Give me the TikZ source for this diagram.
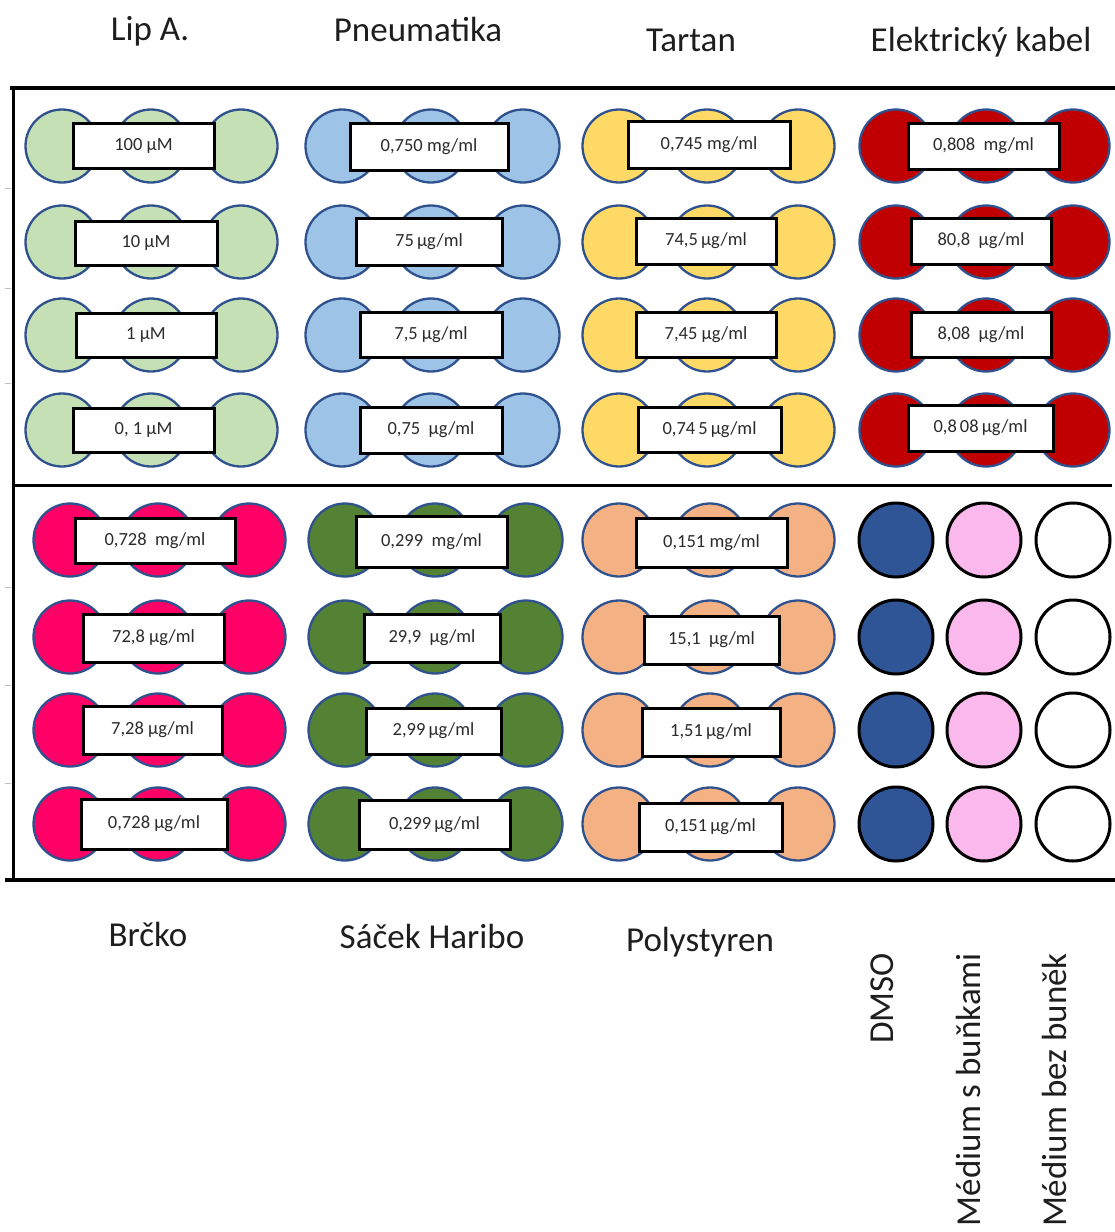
\documentclass[tikz,border=0pt]{standalone}
\usepackage{fontspec}
\setmainfont{Carlito}

% well fills
\definecolor{lipgreen}{HTML}{C5E0B4}
\definecolor{pneublue}{HTML}{9DC3E6}
\definecolor{tartanyellow}{HTML}{FFD966}
\definecolor{cablered}{HTML}{C00000}
\definecolor{strawpink}{HTML}{FF0066}
\definecolor{bagreen}{HTML}{548235}
\definecolor{polypeach}{HTML}{F4B183}
\definecolor{dmsoblue}{HTML}{2F5597}
\definecolor{mediumpink}{HTML}{FBB8EC}
\definecolor{wellrim}{HTML}{2F528F}
\definecolor{labelgray}{HTML}{2B2B2B}
\definecolor{headgray}{HTML}{1E1E1E}

\tikzset{
  well/.style={circle, draw=wellrim, line width=2.3pt, minimum size=73pt, inner sep=0pt},
  ctrl/.style={circle, draw=black, line width=3pt, minimum size=74pt, inner sep=0pt},
  conc/.style={draw=black, fill=white, line width=3pt, inner sep=0pt,
    font=\fontsize{18.5}{22}\selectfont, text=labelgray},
  heading/.style={font=\fontsize{35}{42}\selectfont, text=headgray, anchor=base},
  sidelabel/.style={heading, rotate=90, anchor=base east, inner sep=0pt},
  rule/.style={line width=4pt, black},
  tick/.style={line width=1pt, black!25}
}

% three overlapping wells in one row: prefix, x1, x2, x3, y, fill
\newcommand\wellrow[6]{%
  \node[well, fill=#6] (#1a) at (#2,#5) {};
  \node[well, fill=#6] (#1b) at (#3,#5) {};
  \node[well, fill=#6] (#1c) at (#4,#5) {};
}
% concentration label: name, cx, cy, width, height, text
\newcommand\concbox[6]{%
  \node[conc, minimum width=#4pt, minimum height=#5pt] (#1) at (#2,#3) {#6};
}

\begin{document}
\begin{tikzpicture}[x=1pt, y=-1pt]
\useasboundingbox (0,0) rectangle (1115,1232);

% ---------- plate frame ----------
\coordinate (frTL) at (10,88);
\coordinate (frTR) at (1115,88);
\coordinate (frLT) at (13,88);
\coordinate (frLB) at (13,882);
\coordinate (frML) at (13,485);
\coordinate (frMR) at (1112,485);
\coordinate (frBL) at (5,880);
\coordinate (frBR) at (1115,880);
\draw[rule] (frTL) -- (frTR);
\draw[rule, line width=3pt] (frLT) -- (frLB);
\draw[rule, line width=3pt] (frML) -- (frMR);
\draw[rule, line width=4.5pt] (frBL) -- (frBR);
\foreach \ty in {188,288,383,587,685,783}
  \draw[tick] (5,\ty) -- (11,\ty);

% ---------- upper half: wells ----------
\foreach \r/\y in {1/146,2/242,3/335,4/430} {
  \wellrow{lip\r}{62}{151}{241}{\y}{lipgreen}
  \wellrow{pneu\r}{342}{431}{523}{\y}{pneublue}
  \wellrow{tart\r}{619}{707}{798}{\y}{tartanyellow}
  \wellrow{cab\r}{896}{986}{1073}{\y}{cablered}
}

% ---------- lower half: wells ----------
\foreach \r/\y in {1/540,2/637,3/730,4/824} {
  \wellrow{str\r}{70}{158}{249}{\y}{strawpink}
  \wellrow{bag\r}{345}{435}{526}{\y}{bagreen}
  \wellrow{pol\r}{619}{710}{798}{\y}{polypeach}
  \node[ctrl, fill=dmsoblue] (dmso\r) at (896,\y) {};
  \node[ctrl, fill=mediumpink] (medc\r) at (984,\y) {};
  \node[ctrl, fill=white] (medn\r) at (1073,\y) {};
}

% ---------- concentration labels ----------
\concbox{lipL1}{143.5}{145.5}{141}{45}{100 μM}
\concbox{lipL2}{146}{243}{142}{44}{10 μM}
\concbox{lipL3}{146}{335}{140}{44}{1 μM}
\concbox{lipL4}{143.5}{430}{141}{44}{0, 1 μM}

\concbox{pneuL1}{429}{146.5}{158}{47}{0,750 mg/ml\hspace{14pt}}
\concbox{pneuL2}{429}{241.5}{146}{47}{75\,μg/ml}
\concbox{pneuL3}{431}{334.5}{142}{45}{7,5 μg/ml}
\concbox{pneuL4}{431}{430}{142}{46}{0,75\ \ μg/ml}

\concbox{tartL1}{709}{144.5}{162}{47}{0,745 mg/ml}
\concbox{tartL2}{706}{241}{140}{46}{74,5\,μg/ml}
\concbox{tartL3}{706}{334.5}{140}{45}{7,45 μg/ml}
\concbox{tartL4}{709.5}{429.5}{143}{45}{0,74\,5\,μg/ml}

\concbox{cabL1}{983.5}{146}{151}{46}{0,808 \ mg/ml}
\concbox{cabL2}{981}{241}{140}{46}{80,8 \ μg/ml}
\concbox{cabL3}{981}{334.5}{140}{45}{8,08 \ μg/ml}
\concbox{cabL4}{980.5}{428}{145}{46}{0,8\,08\,μg/ml}

\concbox{strL1}{155}{540.5}{160}{45}{0,728 \ mg/ml}
\concbox{strL2}{153.5}{638}{141}{48}{72,8 μg/ml}
\concbox{strL3}{152.5}{730}{139}{48}{7,28 μg/ml}
\concbox{strL4}{154}{824}{146}{50}{0,728 μg/ml}

\concbox{bagL1}{431.5}{541.5}{151}{51}{0,299 \ mg/ml}
\concbox{bagL2}{432}{638}{136}{48}{29,9 \ μg/ml}
\concbox{bagL3}{433.5}{731}{135}{46}{2,99\,μg/ml}
\concbox{bagL4}{434.5}{824.5}{151}{49}{0,299\,μg/ml}

\concbox{polL1}{711.5}{542.5}{151}{49}{0,151 mg/ml}
\concbox{polL2}{711.5}{640}{135}{48}{15,1 \ μg/ml}
\concbox{polL3}{711}{732}{138}{48}{1,51\,μg/ml}
\concbox{polL4}{710.5}{827}{143}{48}{0,151\,μg/ml}

% ---------- column headings ----------
\node[heading] (hLip) at (150,40) {Lip A.};
\node[heading] (hPneu) at (418,41) {Pneumatika};
\node[heading] (hTart) at (691,51) {Tartan};
\node[heading] (hCab) at (981,51) {Elektrický kabel};

\node[heading] (hStr) at (148,946) {Brčko};
\node[heading] (hBag) at (432,948) {Sáček Haribo};
\node[heading] (hPol) at (700,951) {Polystyren};

\node[sidelabel] (hDmso) at (893,953) {DMSO};
\node[sidelabel] (hMedC) at (980,953) {Médium s buňkami};
\node[sidelabel] (hMedN) at (1066,953) {Médium bez buněk};
\end{tikzpicture}
\end{document}
